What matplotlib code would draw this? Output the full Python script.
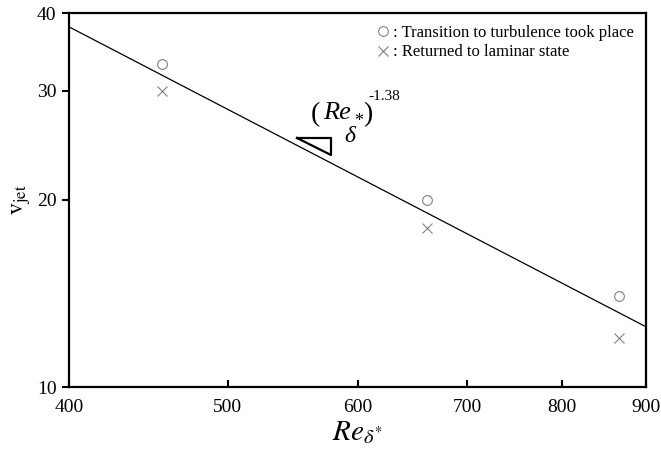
import matplotlib
matplotlib.use("Agg")
import matplotlib.pyplot as plt
from matplotlib.ticker import FixedLocator, NullLocator, FixedFormatter

plt.rcParams['font.family'] = ['Liberation Serif', 'DejaVu Serif']
plt.rcParams['mathtext.fontset'] = 'stix'

# data
re_turb = [456, 662, 866]
v_turb = [33.1, 20.0, 14.0]
re_lam = [456, 662, 866]
v_lam = [30.0, 18.0, 12.0]
fit_re = [400, 900]
fit_v = [38.0, 12.5]
xticks = [400, 500, 600, 700, 800, 900]
yticks = [10, 20, 30, 40]

fig = plt.figure(figsize=(6.61, 4.58), dpi=100)
ax = fig.add_axes([69/661, 1-387/458, (646-69)/661, (387-13)/458])
ax.set_xscale('log')
ax.set_yscale('log')
ax.set_xlim(400, 900)
ax.set_ylim(10, 40)

ax.plot(fit_re, fit_v, color='black', lw=0.9)
ax.plot(re_turb, v_turb, linestyle='none', marker='o', ms=7, mfc='none',
        mec='#808080', mew=0.8, label=': Transition to turbulence took place')
ax.plot(re_lam, v_lam, linestyle='none', marker='x', ms=7,
        mec='#808080', mew=0.8, label=': Returned to laminar state')

ax.xaxis.set_major_locator(FixedLocator(xticks))
ax.xaxis.set_major_formatter(FixedFormatter([str(t) for t in xticks]))
ax.xaxis.set_minor_locator(NullLocator())
ax.yaxis.set_major_locator(FixedLocator(yticks))
ax.yaxis.set_major_formatter(FixedFormatter([str(t) for t in yticks]))
ax.yaxis.set_minor_locator(NullLocator())
ax.tick_params(axis='x', direction='in', length=5, width=1.5, labelsize=14, pad=9)
ax.tick_params(axis='y', direction='out', length=5, width=1.5, labelsize=14, pad=4)
for s in ax.spines.values():
    s.set_linewidth(1.6)

ax.set_xlabel(r'$Re_{\delta^{*}}$', fontsize=21, labelpad=2)
ax.set_ylabel(r'$\mathrm{v}_{\mathrm{jet}}$', fontsize=17, labelpad=3)

leg = ax.legend(loc='upper right', frameon=False, fontsize=12, handlelength=0.7,
                handletextpad=0.3, labelspacing=0.22, borderaxespad=0.3,
                bbox_to_anchor=(1.0, 1.0))

# slope triangle and annotation (axes fraction coordinates)
def fx(px):
    return (px - 69) / 577
def fy(py):
    return (387 - py) / 374

tri_x = [fx(297), fx(331), fx(331), fx(297)]
tri_y = [fy(138), fy(138), fy(155), fy(138)]
ax.plot(tri_x, tri_y, color='black', lw=1.6, transform=ax.transAxes, clip_on=False)
kw = dict(transform=ax.transAxes, va='center', ha='left')
ax.text(fx(311), fy(115), '(', fontsize=20, **kw)
ax.text(fx(323), fy(113), 'Re', fontsize=19, style='italic', **kw)
ax.text(fx(344), fy(137), 'δ', fontsize=17, style='italic', **kw)
ax.text(fx(354), fy(121), '*', fontsize=13, **kw)
ax.text(fx(363), fy(115), ')', fontsize=20, **kw)
ax.text(fx(368), fy(97), '-1.38', fontsize=11, **kw)

fig.savefig('out.png', dpi=100)
